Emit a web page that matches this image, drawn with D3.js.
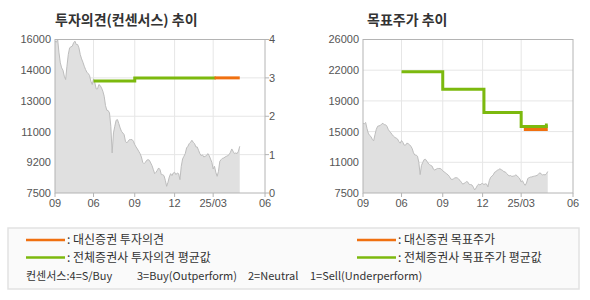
<!DOCTYPE html>
<html>
<head>
<meta charset="utf-8">
<script src="https://cdn.jsdelivr.net/npm/d3@7"></script>
<style>
  body { margin: 0; background: #fff; }
  text { font-family: "Liberation Sans", Arial, sans-serif; }
  .kr { font-family: "Noto Sans CJK KR", sans-serif; }
</style>
</head>
<body>
<svg id="chart" width="590" height="300"></svg>
<script>
// daily close (one value per trading step)
var price = [15908,15852,16000,15261,14707,14429,14300,13967,13783,14522,15169,15538,15593,15630,15815,15908,15723,15723,15538,
  15169,14928,14744,14522,14337,14189,14115,14004,13690,13505,13820,13598,13265,13265,13505,13450,13320,13136,12859,12341,
  12083,12064,11935,11196,9717,10826,11196,11528,11565,11343,11103,10918,10826,10734,10364,10272,10364,10457,10457,10457,
  10364,10179,10050,9939,9810,9681,9496,9200,9126,9200,9311,9348,9311,9163,9015,8794,8572,8646,8757,8886,8794,8516,8516,
  8461,8202,7870,8091,8387,8572,8461,8609,8646,8516,8609,8572,8239,8978,9385,9533,9681,9995,10087,10235,10309,10420,10309,
  10235,10050,10050,9865,9681,9570,9607,9496,9533,9570,9681,9570,9385,9200,8831,8978,8646,8424,8701,9256,9348,9422,9440,
  9496,9533,9570,9625,9755,9939,9810,9681,9717,9681,9810,10087]
var xSpan = 158
var xTickIdx = [0, 29, 60, 90, 119, 158]
var xTickLabels = ['09', '06', '09', '12', '25/03', '06']

// 투자의견 (consensus score)
var opLeftLabels = ['7500', '9200', '11000', '13000', '14000', '16000']
var opTicks = [0, 1, 2, 3, 4]
var opAvgIdx = [29, 60, 121]
var opAvgVal = [2.92, 3.0, 3.0]
var opDsIdx = [120, 139]
var opDsVal = [3.0, 3.0]

// 목표주가
var tpLabels = ['7500', '11000', '15000', '19000', '22000', '26000']
var tpAvgIdx = [29, 60, 91, 119, 138, 139]
var tpAvgVal = [22100, 20000, 17200, 15500, 15700, 15700]
var tpDsIdx = [121, 139]
var tpDsVal = [15150, 15150]

var ORANGE = '#f07010', GREEN = '#7cb90e'
var svg = d3.select('#chart')
var plotTop = 39.5, plotBottom = 193

function vGrid(g, x) {
  g.selectAll('.vg').data(xTickIdx.slice(1, -1)).enter().append('line')
    .attr('x1', d => x(d)).attr('x2', d => x(d))
    .attr('y1', plotTop).attr('y2', plotBottom)
    .attr('stroke', '#e6e6e6')
}

function priceArea(g, x, y) {
  g.append('path').datum(price)
    .attr('d', d3.area().x((d, i) => x(i)).y0(plotBottom).y1(d => y(d)))
    .attr('fill', '#e0e0e0')
  g.append('path').datum(price)
    .attr('d', d3.line().x((d, i) => x(i)).y(d => y(d)))
    .attr('fill', 'none').attr('stroke', '#bdbdbd').attr('stroke-width', 1)
}

function step(g, x, y, idx, vals, color) {
  var pts = idx.map((d, i) => [d, vals[i]])
  g.append('path').datum(pts)
    .attr('d', d3.line().x(d => x(d[0])).y(d => y(d[1])).curve(d3.curveStepAfter))
    .attr('fill', 'none').attr('stroke', color).attr('stroke-width', 3)
}

function border(g, x0, x1) {
  g.append('rect').attr('x', x0).attr('y', plotTop).attr('width', x1 - x0).attr('height', plotBottom - plotTop)
    .attr('fill', 'none').attr('stroke', '#b4b4b4')
}

function xAxis(g, x) {
  g.selectAll('.xt').data(xTickIdx).enter().append('line')
    .attr('x1', d => x(d)).attr('x2', d => x(d))
    .attr('y1', plotBottom).attr('y2', plotBottom + 4).attr('stroke', '#b4b4b4')
  g.selectAll('.xl').data(xTickIdx).enter().append('text')
    .attr('x', d => x(d)).attr('y', plotBottom + 14)
    .attr('text-anchor', 'middle').attr('font-size', 11).attr('fill', '#555')
    .text((d, i) => xTickLabels[i])
}

// ---- left: 투자의견(컨센서스) 추이
var gL = svg.append('g')
var xL = d3.scaleLinear().domain([0, xSpan]).range([55, 265])
var yP = d3.scaleLinear().domain([7500, 16000]).range([plotBottom, plotTop])
var yO = d3.scaleLinear().domain([0, 4]).range([plotBottom, plotTop])
vGrid(gL, xL)
gL.selectAll('.hg').data(opTicks.slice(1, -1)).enter().append('line')
  .attr('x1', 55).attr('x2', 265).attr('y1', d => yO(d)).attr('y2', d => yO(d))
  .attr('stroke', '#e6e6e6')
priceArea(gL, xL, yP)
step(gL, xL, yO, opAvgIdx, opAvgVal, GREEN)
step(gL, xL, yO, opDsIdx, opDsVal, ORANGE)
border(gL, 55, 265)
xAxis(gL, xL)
var yLab = d3.scalePoint().domain(opLeftLabels).range([plotBottom, plotTop])
gL.selectAll('.yl').data(opLeftLabels).enter().append('text')
  .attr('x', 51).attr('y', d => yLab(d)).attr('dy', '0.36em')
  .attr('text-anchor', 'end').attr('font-size', 11).attr('fill', '#555').text(d => d)
gL.selectAll('.rt').data(opTicks).enter().append('line')
  .attr('x1', 265).attr('x2', 269).attr('y1', d => yO(d)).attr('y2', d => yO(d)).attr('stroke', '#b4b4b4')
gL.selectAll('.rl').data(opTicks).enter().append('text')
  .attr('x', 269).attr('y', d => yO(d)).attr('dy', '0.36em')
  .attr('font-size', 11).attr('fill', '#555').text(d => d)
gL.append('text').attr('class', 'kr').attr('x', 55).attr('y', 25)
  .attr('font-size', 14).attr('font-weight', 'bold').attr('fill', '#333')
  .text('투자의견(컨센서스) 추이')

// ---- right: 목표주가 추이
var gR = svg.append('g')
var xR = d3.scaleLinear().domain([0, xSpan]).range([363, 573])
var yT = d3.scaleLinear().domain([7500, 26000]).range([plotBottom, plotTop])
var tLab = d3.scalePoint().domain(tpLabels).range([plotBottom, plotTop])
vGrid(gR, xR)
gR.selectAll('.hg').data(tpLabels.slice(1, -1)).enter().append('line')
  .attr('x1', 363).attr('x2', 573).attr('y1', d => tLab(d)).attr('y2', d => tLab(d))
  .attr('stroke', '#e6e6e6')
priceArea(gR, xR, yT)
step(gR, xR, yT, tpAvgIdx, tpAvgVal, GREEN)
step(gR, xR, yT, tpDsIdx, tpDsVal, ORANGE)
border(gR, 363, 573)
xAxis(gR, xR)
gR.selectAll('.yl').data(tpLabels).enter().append('text')
  .attr('x', 359).attr('y', d => tLab(d)).attr('dy', '0.36em')
  .attr('text-anchor', 'end').attr('font-size', 11).attr('fill', '#555').text(d => d)
gR.append('text').attr('class', 'kr').attr('x', 367).attr('y', 25)
  .attr('font-size', 14).attr('font-weight', 'bold').attr('fill', '#333')
  .text('목표주가 추이')

// ---- legend
var legend = [
  { x: 26, y: 240, color: ORANGE, label: ': 대신증권 투자의견' },
  { x: 26, y: 257.5, color: GREEN, label: ': 전체증권사 투자의견 평균값' },
  { x: 357, y: 240, color: ORANGE, label: ': 대신증권 목표주가' },
  { x: 357, y: 257.5, color: GREEN, label: ': 전체증권사 목표주가 평균값' }
]
var notes = [
  { x: 26, t: '컨센서스:4=S/Buy' },
  { x: 137, t: '3=Buy(Outperform)' },
  { x: 248, t: '2=Neutral' },
  { x: 310, t: '1=Sell(Underperform)' }
]
var lg = svg.append('g')
lg.append('rect').attr('x', 8).attr('y', 228).attr('width', 571).attr('height', 61)
  .attr('fill', '#fafafa').attr('stroke', '#e2e2e2').attr('stroke-width', 1.5)
lg.selectAll('.ll').data(legend).enter().append('line')
  .attr('x1', d => d.x).attr('x2', d => d.x + 39).attr('y1', d => d.y).attr('y2', d => d.y)
  .attr('stroke', d => d.color).attr('stroke-width', 2.5)
lg.selectAll('.lt').data(legend).enter().append('text').attr('class', 'kr')
  .attr('x', d => d.x + 41).attr('y', d => d.y).attr('dy', '0.36em')
  .attr('font-size', 12).attr('fill', '#333').text(d => d.label)
lg.selectAll('.nt').data(notes).enter().append('text').attr('class', 'kr')
  .attr('x', d => d.x).attr('y', 276).attr('dy', '0.36em')
  .attr('font-size', 11).attr('fill', '#333').text(d => d.t)
</script>
</body>
</html>
